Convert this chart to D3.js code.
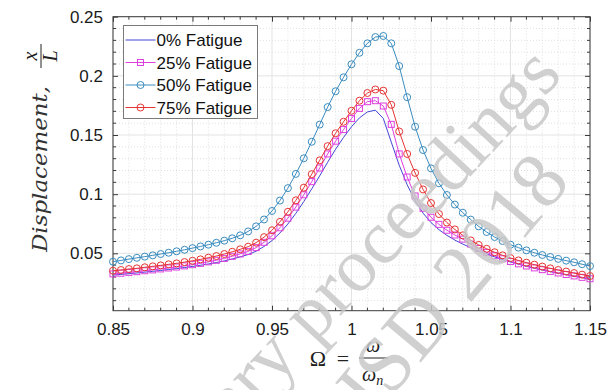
<!DOCTYPE html>
<html>
<head>
<meta charset="utf-8">
<script src="https://cdn.jsdelivr.net/npm/d3@7"></script>
<style>
  body { margin: 0; background: #fff; }
  svg { display: block; }
</style>
</head>
<body>
<div id="chart"></div>
<script>
// frequency ratio, Omega = w / w_n
const omega = [
  0.85, 0.855, 0.86, 0.865, 0.87, 0.875, 0.88, 0.885, 0.89, 0.895,
  0.9, 0.905, 0.91, 0.915, 0.92, 0.925, 0.93, 0.935, 0.94, 0.945,
  0.95, 0.955, 0.96, 0.965, 0.97, 0.975, 0.98, 0.985, 0.99, 0.995,
  1.0, 1.005, 1.01, 1.015, 1.02, 1.025, 1.03, 1.035, 1.04, 1.045,
  1.05, 1.055, 1.06, 1.065, 1.07, 1.075, 1.08, 1.085, 1.09, 1.095,
  1.1, 1.105, 1.11, 1.115, 1.12, 1.125, 1.13, 1.135, 1.14, 1.145, 1.15
];

// displacement x/L for each fatigue level
const fatigue0 = [
  0.0316, 0.0322, 0.0328, 0.0334, 0.0341, 0.0348, 0.0355, 0.0363, 0.0371, 0.0380,
  0.0389, 0.0399, 0.0410, 0.0422, 0.0436, 0.0452, 0.0470, 0.0490, 0.0518, 0.0558,
  0.0608, 0.0672, 0.0748, 0.0838, 0.0938, 0.1045, 0.1155, 0.1270, 0.1380, 0.1480,
  0.1570, 0.1645, 0.1695, 0.1710, 0.1640, 0.1440, 0.1245, 0.1080, 0.0945, 0.0840,
  0.0760, 0.0700, 0.0652, 0.0612, 0.0578, 0.0548, 0.0520, 0.0494, 0.0470, 0.0448,
  0.0427, 0.0408, 0.0390, 0.0374, 0.0359, 0.0345, 0.0332, 0.0319, 0.0307, 0.0295, 0.0278
];
const fatigue25 = [
  0.0326, 0.0332, 0.0339, 0.0345, 0.0353, 0.0360, 0.0368, 0.0376, 0.0384, 0.0394,
  0.0404, 0.0415, 0.0428, 0.0441, 0.0457, 0.0475, 0.0495, 0.0516, 0.0548, 0.0593,
  0.0648, 0.0716, 0.0797, 0.0891, 0.0995, 0.1106, 0.1221, 0.1340, 0.1448, 0.1546,
  0.1640, 0.1725, 0.1782, 0.1790, 0.1745, 0.1590, 0.1340, 0.1145, 0.0985, 0.0880,
  0.0805, 0.0745, 0.0695, 0.0655, 0.0620, 0.0578, 0.0541, 0.0508, 0.0480, 0.0454,
  0.0431, 0.0411, 0.0393, 0.0377, 0.0362, 0.0347, 0.0334, 0.0321, 0.0309, 0.0297, 0.0285
];
const fatigue50 = [
  0.0429, 0.0440, 0.0451, 0.0462, 0.0472, 0.0483, 0.0494, 0.0505, 0.0517, 0.0530,
  0.0544, 0.0558, 0.0573, 0.0589, 0.0607, 0.0627, 0.0652, 0.0685, 0.0728, 0.0786,
  0.0858, 0.0946, 0.1051, 0.1171, 0.1303, 0.1443, 0.1588, 0.1736, 0.1870, 0.1988,
  0.2098, 0.2195, 0.2275, 0.2328, 0.2337, 0.2275, 0.2083, 0.1820, 0.1570, 0.1373,
  0.1218, 0.1092, 0.0993, 0.0912, 0.0843, 0.0785, 0.0728, 0.0680, 0.0638, 0.0604,
  0.0573, 0.0548, 0.0525, 0.0505, 0.0486, 0.0469, 0.0453, 0.0438, 0.0424, 0.0408, 0.0392
];
const fatigue75 = [
  0.0353, 0.0359, 0.0367, 0.0373, 0.0382, 0.0390, 0.0398, 0.0407, 0.0415, 0.0426,
  0.0437, 0.0449, 0.0463, 0.0477, 0.0494, 0.0513, 0.0534, 0.0556, 0.0590, 0.0637,
  0.0695, 0.0766, 0.0851, 0.0948, 0.1055, 0.1169, 0.1286, 0.1406, 0.1515, 0.1612,
  0.1705, 0.1790, 0.1855, 0.1885, 0.1875, 0.1755, 0.1530, 0.1340, 0.1180, 0.1040,
  0.0925, 0.0832, 0.0760, 0.0702, 0.0652, 0.0609, 0.0571, 0.0538, 0.0509, 0.0483,
  0.0460, 0.0440, 0.0421, 0.0404, 0.0388, 0.0373, 0.0359, 0.0346, 0.0333, 0.0320, 0.0308
];

const seriesNames = ["0% Fatigue", "25% Fatigue", "50% Fatigue", "75% Fatigue"];
const xTicks = [0.85, 0.9, 0.95, 1, 1.05, 1.1, 1.15];
const yTicks = [0.05, 0.1, 0.15, 0.2, 0.25];

// styling per series
const series = [
  { name: seriesNames[0], values: fatigue0, color: "#4444d6", marker: "none" },
  { name: seriesNames[1], values: fatigue25, color: "#de3fde", marker: "square" },
  { name: seriesNames[2], values: fatigue50, color: "#3a8cbf", marker: "circle" },
  { name: seriesNames[3], values: fatigue75, color: "#e63535", marker: "circle" }
];

const width = 610, height = 390;
const margin = { left: 113, right: 20, top: 16.7, bottom: 79.3 };

const svg = d3.select("#chart").append("svg")
  .attr("width", width)
  .attr("height", height)
  .attr("viewBox", [0, 0, width, height]);

const x = d3.scaleLinear()
  .domain([0.85, 1.15])
  .range([margin.left, width - margin.right]);

const y = d3.scaleLinear()
  .domain([0.0015, 0.25])
  .range([height - margin.bottom, margin.top]);

const x0 = x.range()[0], x1 = x.range()[1];
const y0 = y.range()[0], y1 = y.range()[1];

// minor grid (dotted), every 0.01
const xMinor = d3.range(86, 115).map(d => d / 100).filter(d => Math.round(d * 100) % 5 !== 0);
const yMinor = d3.range(1, 25).map(d => d / 100).filter(d => Math.round(d * 100) % 5 !== 0);

const grid = svg.append("g");
grid.selectAll("line.xmin").data(xMinor).enter().append("line")
  .attr("x1", d => x(d)).attr("x2", d => x(d))
  .attr("y1", y0).attr("y2", y1)
  .attr("stroke", "#d9d9d9").attr("stroke-width", 0.8).attr("stroke-dasharray", "1,2");
grid.selectAll("line.ymin").data(yMinor).enter().append("line")
  .attr("x1", x0).attr("x2", x1)
  .attr("y1", d => y(d)).attr("y2", d => y(d))
  .attr("stroke", "#d9d9d9").attr("stroke-width", 0.8).attr("stroke-dasharray", "1,2");

// major grid
grid.selectAll("line.xmaj").data(xTicks).enter().append("line")
  .attr("x1", d => x(d)).attr("x2", d => x(d))
  .attr("y1", y0).attr("y2", y1)
  .attr("stroke", "#e3e3e3").attr("stroke-width", 1);
grid.selectAll("line.ymaj").data(yTicks).enter().append("line")
  .attr("x1", x0).attr("x2", x1)
  .attr("y1", d => y(d)).attr("y2", d => y(d))
  .attr("stroke", "#e3e3e3").attr("stroke-width", 1);

// axes (MATLAB style: ticks inside, box on)
const tickFont = "'Liberation Sans', Arial, sans-serif";
const axisColor = "#3a3a3a";

const xAxis = svg.append("g")
  .attr("transform", `translate(0,${y0})`)
  .call(d3.axisBottom(x).tickValues(xTicks).tickSizeInner(-5).tickSizeOuter(0)
    .tickPadding(12).tickFormat(d3.format("~g")));
const xAxisTop = svg.append("g")
  .attr("transform", `translate(0,${y1})`)
  .call(d3.axisTop(x).tickValues(xTicks).tickSizeInner(-5).tickSizeOuter(0).tickFormat(""));
const yAxis = svg.append("g")
  .attr("transform", `translate(${x0},0)`)
  .call(d3.axisLeft(y).tickValues(yTicks).tickSizeInner(-5).tickSizeOuter(0)
    .tickPadding(10).tickFormat(d3.format("~g")));
const yAxisRight = svg.append("g")
  .attr("transform", `translate(${x1},0)`)
  .call(d3.axisRight(y).tickValues(yTicks).tickSizeInner(-5).tickSizeOuter(0).tickFormat(""));

[xAxis, xAxisTop, yAxis, yAxisRight].forEach(g => {
  g.select(".domain").remove();
  g.selectAll("line").attr("stroke", axisColor);
  g.selectAll("text").attr("font-family", tickFont).attr("font-size", "17px").attr("fill", "#1a1a1a");
});

// minor ticks
const minorTicks = svg.append("g").attr("stroke", axisColor);
minorTicks.selectAll("line.xb").data(xMinor).enter().append("line")
  .attr("x1", d => x(d)).attr("x2", d => x(d)).attr("y1", y0).attr("y2", y0 - 3);
minorTicks.selectAll("line.xt").data(xMinor).enter().append("line")
  .attr("x1", d => x(d)).attr("x2", d => x(d)).attr("y1", y1).attr("y2", y1 + 3);
minorTicks.selectAll("line.yl").data(yMinor).enter().append("line")
  .attr("x1", x0).attr("x2", x0 + 3).attr("y1", d => y(d)).attr("y2", d => y(d));
minorTicks.selectAll("line.yr").data(yMinor).enter().append("line")
  .attr("x1", x1).attr("x2", x1 - 3).attr("y1", d => y(d)).attr("y2", d => y(d));

// box
svg.append("rect")
  .attr("x", x0).attr("y", y1)
  .attr("width", x1 - x0).attr("height", y0 - y1)
  .attr("fill", "none").attr("stroke", axisColor).attr("stroke-width", 1);

// curves
const line = d3.line()
  .x((d, i) => x(omega[i]))
  .y(d => y(d));

const plot = svg.append("g");

function drawMarkers(g, s, pts, size) {
  if (s.marker === "circle") {
    g.selectAll("circle").data(pts).enter().append("circle")
      .attr("cx", d => d[0]).attr("cy", d => d[1]).attr("r", size / 2)
      .attr("fill", "none").attr("stroke", s.color).attr("stroke-width", 1);
  } else if (s.marker === "square") {
    g.selectAll("rect").data(pts).enter().append("rect")
      .attr("x", d => d[0] - size / 2 + 0.5).attr("y", d => d[1] - size / 2 + 0.5)
      .attr("width", size - 1).attr("height", size - 1)
      .attr("fill", "none").attr("stroke", s.color).attr("stroke-width", 1);
  }
}

series.forEach(s => {
  const g = plot.append("g");
  g.append("path")
    .datum(s.values)
    .attr("d", line)
    .attr("fill", "none")
    .attr("stroke", s.color)
    .attr("stroke-width", 1);
  drawMarkers(g, s, s.values.map((v, i) => [x(omega[i]), y(v)]), 7);
});

// legend
const legend = svg.append("g").attr("transform", "translate(123.5,25.5)");
legend.append("rect")
  .attr("width", 134).attr("height", 93)
  .attr("fill", "#fff").attr("stroke", "#7a7a7a").attr("stroke-width", 1);

const legendItems = legend.selectAll("g.item").data(series).enter().append("g")
  .attr("class", "item")
  .attr("transform", (d, i) => `translate(0,${14.5 + i * 22.5})`);

legendItems.append("line")
  .attr("x1", 2).attr("x2", 32).attr("y1", 0).attr("y2", 0)
  .attr("stroke", d => d.color).attr("stroke-width", 1);
legendItems.each(function (d) {
  drawMarkers(d3.select(this), d, [[17, 0]], 7);
});
legendItems.append("text")
  .attr("x", 33).attr("y", 6)
  .attr("font-family", tickFont).attr("font-size", "17px").attr("fill", "#111")
  .text(d => d.name);

// axis labels (LaTeX-like, italic serif)
const serif = "'Liberation Serif', 'DejaVu Serif', serif";
const mathSerif = "'DejaVu Serif', 'Liberation Serif', serif";

const yLabel = svg.append("g").attr("transform", "translate(47,0) rotate(-90)");
yLabel.append("text")
  .attr("x", -252).attr("y", 0)
  .attr("font-family", mathSerif).attr("font-style", "italic").attr("font-size", "21px")
  .attr("font-weight", 300)
  .attr("textLength", 166).attr("lengthAdjust", "spacingAndGlyphs")
  .attr("fill", "#333")
  .text("Displacement,");
yLabel.append("text")
  .attr("x", -56).attr("y", -10)
  .attr("text-anchor", "middle")
  .attr("font-family", serif).attr("font-style", "italic").attr("font-size", "20px")
  .attr("fill", "#222").text("x");
yLabel.append("line")
  .attr("x1", -68).attr("x2", -44).attr("y1", -6).attr("y2", -6)
  .attr("stroke", "#222").attr("stroke-width", 1);
yLabel.append("text")
  .attr("x", -56).attr("y", 10)
  .attr("text-anchor", "middle")
  .attr("font-family", serif).attr("font-style", "italic").attr("font-size", "20px")
  .attr("fill", "#222").text("L");

const xLabel = svg.append("g");
xLabel.append("text")
  .attr("x", 318).attr("y", 366).attr("text-anchor", "middle")
  .attr("font-family", serif).attr("font-size", "22px").attr("fill", "#222")
  .text("Ω");
xLabel.append("text")
  .attr("x", 343).attr("y", 366).attr("text-anchor", "middle")
  .attr("font-family", serif).attr("font-size", "22px").attr("fill", "#222")
  .text("=");
xLabel.append("line")
  .attr("x1", 359).attr("x2", 388).attr("y1", 358).attr("y2", 358)
  .attr("stroke", "#222").attr("stroke-width", 1);
xLabel.append("text")
  .attr("x", 373).attr("y", 352).attr("text-anchor", "middle")
  .attr("font-family", serif).attr("font-style", "italic").attr("font-size", "20px").attr("fill", "#222")
  .text("ω");
const den = xLabel.append("text")
  .attr("x", 362).attr("y", 381)
  .attr("font-family", serif).attr("font-style", "italic").attr("font-size", "20px").attr("fill", "#222");
den.append("tspan").text("ω");
den.append("tspan").attr("font-size", "14px").attr("dy", 4).text("n");

// watermark
const wm = svg.append("g")
  .attr("font-family", serif)
  .attr("fill", "#c8c8c8")
  .attr("opacity", 0.85)
  .attr("pointer-events", "none");
wm.append("text")
  .attr("transform", "translate(564,76) rotate(-47)")
  .attr("text-anchor", "end")
  .attr("font-size", "76px")
  .text("Preliminary proceedings");
wm.append("text")
  .attr("transform", "translate(572,182) rotate(-50)")
  .attr("text-anchor", "end")
  .attr("font-size", "80px")
  .text("ISD 2018");
</script>
</body>
</html>
